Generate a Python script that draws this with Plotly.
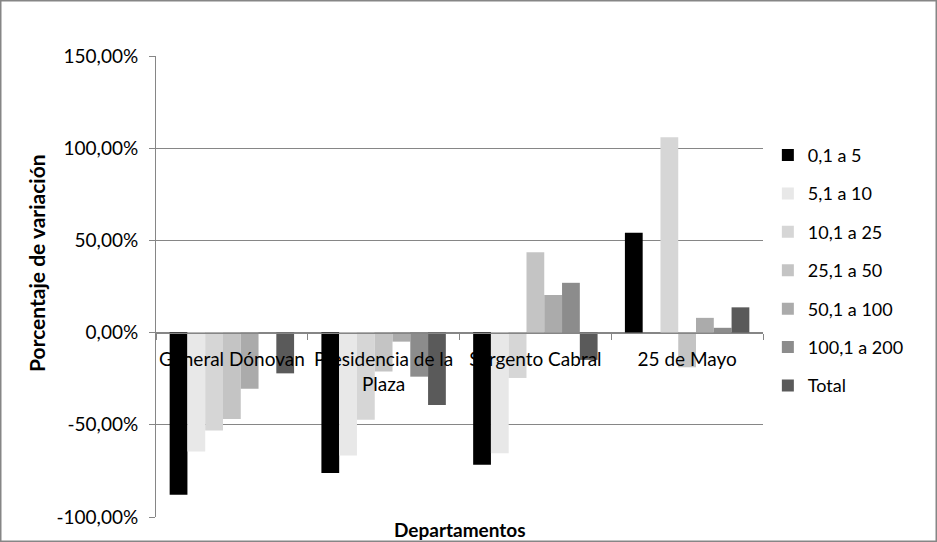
import plotly.graph_objects as go

# --- data ---
departamentos = ["General Dónovan", "Presidencia de la<br>Plaza", "Sargento Cabral", "25 de Mayo"]
series_names = ["0,1 a 5", "5,1 a 10", "10,1 a 25", "25,1 a 50", "50,1 a 100", "100,1 a 200", "Total"]

v_0_5 = [-88.0, -76.1, -71.6, 54.1]
v_5_10 = [-64.5, -66.7, -65.4, 0.0]
v_10_25 = [-53.1, -47.2, -24.6, 105.9]
v_25_50 = [-46.8, -21.1, 43.6, -18.8]
v_50_100 = [-30.5, -4.9, 20.4, 8.0]
v_100_200 = [0.0, -23.9, 27.0, 2.6]
v_total = [-22.1, -39.2, -14.8, 13.7]

values = [v_0_5, v_5_10, v_10_25, v_25_50, v_50_100, v_100_200, v_total]
colors = ["#000000", "#e8e8e8", "#d6d6d6", "#c4c4c4", "#ababab", "#8c8c8c", "#5a5a5a"]

y_ticks = [-100, -50, 0, 50, 100, 150]
y_ticktext = [f"{t:.2f}%".replace(".", ",") for t in y_ticks]

FONT = "Lato"

fig = go.Figure()
for name, vals, col in zip(series_names, values, colors):
    fig.add_trace(go.Bar(
        x=departamentos, y=vals, name=name, legendgroup=name,
        marker=dict(color=col, line=dict(width=0)),
    ))

# zero line sits at 100/250 of the plot height
zero_pos = (0 - y_ticks[0]) / (y_ticks[-1] - y_ticks[0])

fig.update_layout(
    width=937, height=542,
    margin=dict(l=156, r=174, t=56, b=25),
    paper_bgcolor="white", plot_bgcolor="white",
    font=dict(family=FONT, size=18, color="#000000"),
    barmode="group", bargap=0.18, bargroupgap=0,
    legend=dict(x=1.008, y=0.535, xanchor="left", yanchor="middle",
                font=dict(size=18), tracegroupgap=12, itemwidth=30),
    showlegend=True,
)

fig.update_xaxes(
    anchor="free", position=zero_pos,
    showline=True, linecolor="#868686", linewidth=1,
    ticks="outside", tickson="boundaries", ticklen=6, tickcolor="#868686",
    ticklabelstandoff=10,
    showgrid=False, tickfont=dict(size=19), tickangle=0,
)
fig.update_yaxes(
    range=[y_ticks[0], y_ticks[-1]], tickvals=y_ticks, ticktext=y_ticktext,
    showline=True, linecolor="#868686", linewidth=1,
    ticks="outside", ticklen=6, tickcolor="#868686", ticklabelstandoff=7,
    showgrid=True, gridcolor="#868686", gridwidth=1, zeroline=False,
    tickfont=dict(size=19),
)

# axis titles
fig.add_annotation(text="<b>Porcentaje de variación</b>", xref="paper", yref="paper",
                   x=0, xshift=-119, y=0.549, xanchor="center", yanchor="middle",
                   textangle=-90, showarrow=False, font=dict(size=21))
fig.add_annotation(text="<b>Departamentos</b>", xref="paper", yref="paper",
                   x=0.5, y=0, yshift=1, yanchor="top", showarrow=False,
                   font=dict(size=19))

# outer border of the chart area
fig.add_shape(type="rect", xref="paper", yref="paper",
              x0=-156 / 607, x1=(937 - 156) / 607, y0=-25 / 461, y1=(542 - 25) / 461,
              line=dict(color="#868686", width=3))

fig.write_html(
    "out.html",
    config={"displayModeBar": False},
    post_script="document.body.style.margin='0';document.body.style.overflow='hidden';",
)
